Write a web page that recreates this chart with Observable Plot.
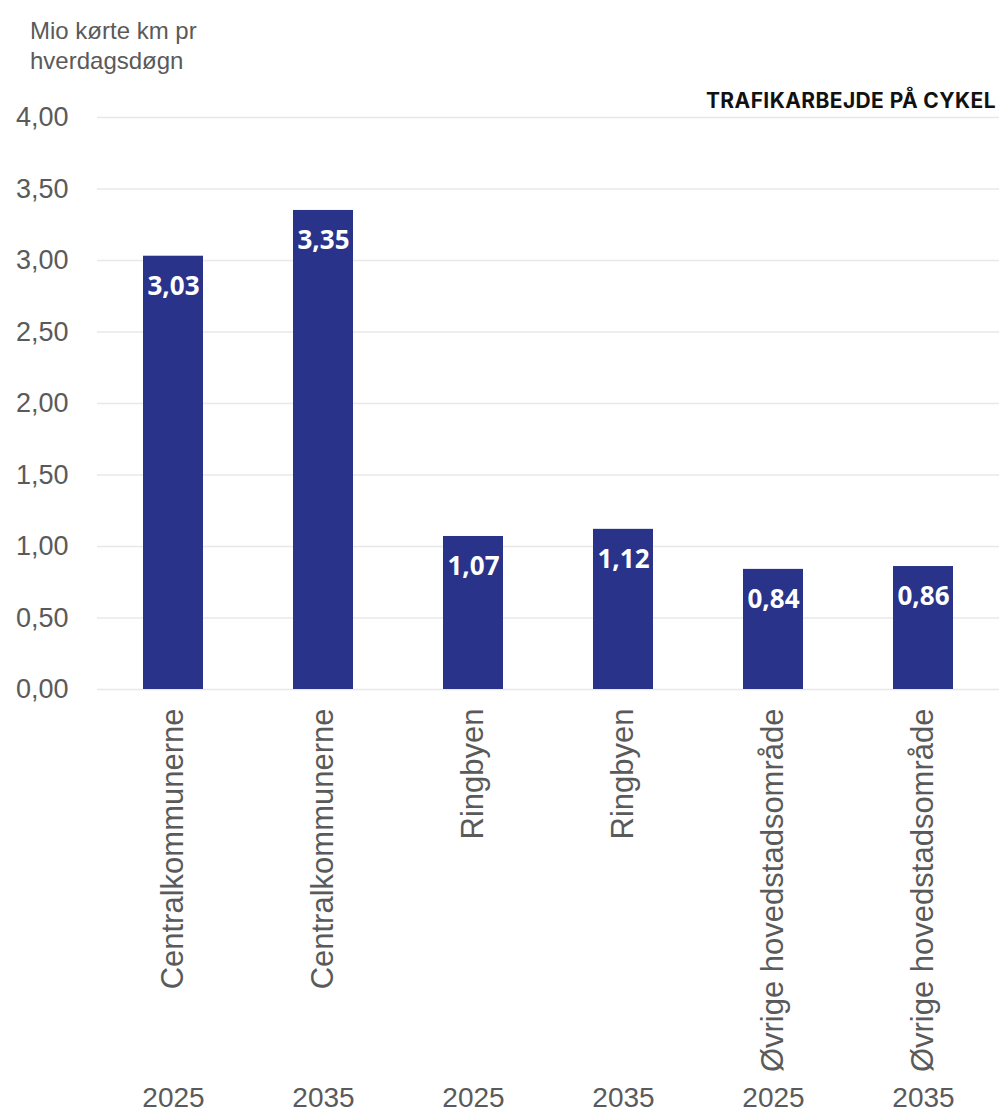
<!DOCTYPE html>
<html>
<head>
<meta charset="utf-8">
<script src="https://cdn.jsdelivr.net/npm/d3@7"></script>
<script src="https://cdn.jsdelivr.net/npm/@observablehq/plot@0.6"></script>
<style>
  html, body { margin: 0; padding: 0; background: #fff; }
  #wrap { position: relative; width: 999px; height: 1117px; overflow: hidden; }
  #head { height: 80px; box-sizing: border-box; padding: 16px 0 0 30px; font-family: "Liberation Sans", Arial, sans-serif; font-size: 24px; line-height: 30px; color: #5a5a5a; }
  #tag { position: absolute; right: 3px; top: 88px; font-family: Inter, sans-serif; font-weight: 700; font-size: 21px; color: #111; letter-spacing: 0.4px; }
  svg { display: block; }
</style>
</head>
<body>
<div id="wrap">
  <div id="head">Mio kørte km pr<br>hverdagsdøgn</div>
  <div id="tag">TRAFIKARBEJDE PÅ CYKEL</div>
  <div id="chart"></div>
</div>
<script>
const categories = ["Centralkommunerne", "Centralkommunerne", "Ringbyen", "Ringbyen", "Øvrige hovedstadsområde", "Øvrige hovedstadsområde"];
const years = ["2025", "2035", "2025", "2035", "2025", "2035"];
const values = [3.03, 3.35, 1.07, 1.12, 0.84, 0.86];
const yTicks = [0, 0.5, 1, 1.5, 2, 2.5, 3, 3.5, 4];

const fmt = v => v.toFixed(2).replace(".", ",");
const data = categories.map((c, i) => ({ key: c + " " + years[i], category: c, year: years[i], value: values[i] }));

const chart = Plot.plot({
  width: 999,
  height: 1037,
  marginTop: 37,
  marginBottom: 428,
  marginLeft: 97,
  marginRight: 0,
  style: { fontFamily: "'Liberation Sans', Arial, sans-serif", color: "#5a5a5a", background: "#fff" },
  x: { domain: data.map(d => d.key), paddingInner: 0.6, paddingOuter: 0.3, axis: null },
  y: { domain: [0, 4], axis: null },
  marks: [
    Plot.ruleY(yTicks, { stroke: "#e8e8e8", strokeWidth: 1.5 }),
    Plot.axisY({ ticks: yTicks, tickFormat: fmt, tickSize: 0, tickPadding: 29, fontSize: 27, label: null, fill: "#5a5a5a" }),
    Plot.barY(data, { x: "key", y: "value", fill: "#29338a" }),
    Plot.text(data, { x: "key", y: "value", text: d => fmt(d.value), dy: 30, fill: "white", fontWeight: "bold", fontSize: 26, fontFamily: "'Open Sans', sans-serif" }),
    Plot.text(data, { x: "key", y: d => 0, text: "category", rotate: -90, textAnchor: "end", lineAnchor: "middle", dy: 19, fontSize: 31, fill: "#5a5a5a" }),
    Plot.text(data, { x: "key", y: d => 0, text: "year", dy: 409, lineAnchor: "middle", fontSize: 28, fill: "#5a5a5a" })
  ]
});
document.getElementById("chart").appendChild(chart);
</script>
</body>
</html>
